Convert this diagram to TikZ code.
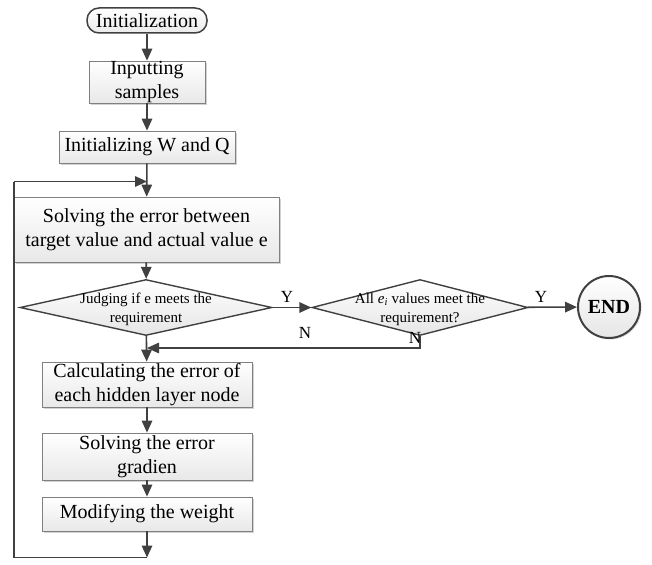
\documentclass[tikz,border=0pt]{standalone}
\usepackage{fontspec}
\setmainfont{Liberation Serif}
\usetikzlibrary{arrows.meta,shapes.geometric,shadows}

\definecolor{linegray}{HTML}{404040}
\definecolor{boxedge}{HTML}{808080}

\tikzset{
  proc/.style={rectangle, draw=boxedge, line width=0.8pt,
    top color=white, bottom color=black!9,
    drop shadow={shadow xshift=2pt, shadow yshift=-2pt, fill=black!22, opacity=0.8},
    font=\fontsize{20}{24}\selectfont, align=center, inner sep=0pt},
  term/.style={rectangle, rounded corners=12pt, draw=linegray, line width=1.5pt,
    top color=white, bottom color=black!8,
    font=\fontsize{20}{24}\selectfont, inner sep=0pt},
  decision/.style={diamond, draw=linegray, line width=1.4pt,
    top color=white, bottom color=black!10, inner sep=0pt},
  dtext/.style={font=\fontsize{15}{19}\selectfont, align=center, inner sep=0pt},
  endnode/.style={circle, draw=linegray, line width=2pt,
    top color=white, bottom color=black!10,
    drop shadow={shadow xshift=1.5pt, shadow yshift=-1.5pt, fill=black!20, opacity=0.7},
    font=\fontsize{20}{24}\selectfont\bfseries, inner sep=0pt},
  flow/.style={draw=linegray, line width=1.6pt},
  arr/.style={flow, -{Triangle[length=12pt,width=10.5pt]}},
  yn/.style={font=\fontsize{17}{20}\selectfont, inner sep=0pt},
}

\begin{document}
\begin{tikzpicture}[x=1pt, y=-1pt]
\useasboundingbox (0,0) rectangle (652,564);

% main column
\node[term, minimum width=120pt, minimum height=25pt] (init) at (147,20.5) {Initialization};
\node[proc, minimum width=116pt, minimum height=42pt] (inp) at (147,82) {Inputting\\samples};
\node[proc, minimum width=176pt, minimum height=32pt] (wq) at (147,147) {Initializing W and Q};
\node[proc, minimum width=265pt, minimum height=65pt] (solve) at (146.5,229.5)
  {Solving the error between\\target value and actual value e};

% decisions
\node[decision, minimum width=252pt, minimum height=56pt] (d1) at (146,307.5) {};
\node[dtext] (d1t) at (146,309) {Judging if e meets the\\requirement};
\node[decision, minimum width=216pt, minimum height=56pt] (d2) at (420,307.5) {};
\node[dtext] (d2t) at (420,309) {All \textit{e}\textsubscript{\textit{i}} values meet the\\requirement?};
\node[endnode, minimum size=62pt] (end) at (609,307) {END};

% update steps
\node[proc, minimum width=210pt, minimum height=45pt] (calc) at (147,384.5)
  {Calculating the error of\\each hidden layer node};
\node[proc, minimum width=210pt, minimum height=47pt] (grad) at (147,456.5)
  {Solving the error\\gradien};
\node[proc, minimum width=210pt, minimum height=34pt] (mod) at (147,514) {Modifying the weight};

% junction points
\coordinate (nj) at (147,348);
\coordinate (bot) at (147,557.5);
\coordinate (lb) at (14,557.5);
\coordinate (lt) at (14,181.5);
\coordinate (loopin) at (147,181.5);

% connectors
\draw[arr] (init) -- (inp);
\draw[arr] (inp) -- (wq);
\draw[arr] (wq) -- (solve);
\draw[arr] (solve) -- (d1);
\draw[arr] (d1) -- (d2);
\draw[arr] (d2) -- (end);
\draw[arr] (d1) -- (calc);
\draw[arr] (d2.south) |- (nj);
\draw[arr] (calc) -- (grad);
\draw[arr] (grad) -- (mod);
\draw[arr] (mod) -- (bot);
\draw[flow] (bot) -- (lb) -- (lt);
\draw[arr] (lt) -- (loopin);

% branch labels
\node[yn] (y1) at (287,297) {Y};
\node[yn] (y2) at (541,297) {Y};
\node[yn] (n1) at (305,333) {N};
\node[yn] (n2) at (415,338) {N};
\end{tikzpicture}
\end{document}
